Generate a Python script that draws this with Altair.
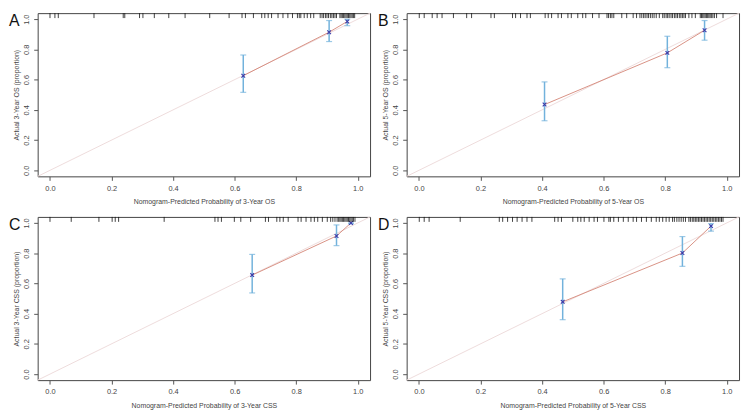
import altair as alt
import pandas as pd

letters = ["A", "B", "C", "D"]
x_titles = [
    "Nomogram-Predicted Probability of 3-Year OS",
    "Nomogram-Predicted Probability of 5-Year OS",
    "Nomogram-Predicted Probability of 3-Year CSS",
    "Nomogram-Predicted Probability of 5-Year CSS",
]
y_titles = [
    "Actual 3-Year OS (proportion)",
    "Actual 5-Year OS (proportion)",
    "Actual 3-Year CSS (proportion)",
    "Actual 5-Year CSS (proportion)",
]
tick_values = [0.0, 0.2, 0.4, 0.6, 0.8, 1.0]
ideal_ends = [-0.04, 1.04]

pred_A = [0.628, 0.907, 0.966]
obs_A = [0.626, 0.914, 0.985]
lo_A = [0.516, 0.852, 0.957]
hi_A = [0.763, 0.991, 1.0]

pred_B = [0.408, 0.807, 0.928]
obs_B = [0.435, 0.777, 0.927]
lo_B = [0.328, 0.679, 0.861]
hi_B = [0.585, 0.887, 0.991]

pred_C = [0.657, 0.931, 0.978]
obs_C = [0.655, 0.914, 1.0]
lo_C = [0.537, 0.850, 0.995]
hi_C = [0.792, 0.987, 1.0]

pred_D = [0.467, 0.856, 0.949]
obs_D = [0.478, 0.801, 0.979]
lo_D = [0.360, 0.713, 0.946]
hi_D = [0.630, 0.910, 0.996]

rug_A = [0.0, 0.016, 0.027, 0.143, 0.238, 0.243, 0.291, 0.302, 0.339, 0.386, 0.439, 0.519,
         0.582, 0.624, 0.635, 0.661, 0.688, 0.698, 0.709, 0.720, 0.741, 0.757, 0.773, 0.788,
         0.804, 0.810, 0.815, 0.826, 0.836, 0.847, 0.857, 0.878, 0.884, 0.889, 0.895, 0.900,
         0.905, 0.911, 0.916, 0.921, 0.926, 0.931, 0.942, 0.946, 0.950, 0.954, 0.958, 0.962,
         0.966, 0.970, 0.974, 0.978, 0.982, 0.986, 0.990]
rug_B = [0.001, 0.017, 0.043, 0.059, 0.075, 0.112, 0.155, 0.171, 0.234, 0.245, 0.304, 0.314,
         0.330, 0.351, 0.362, 0.410, 0.420, 0.431, 0.452, 0.463, 0.484, 0.495, 0.516, 0.532,
         0.542, 0.564, 0.585, 0.611, 0.616, 0.622, 0.627, 0.633, 0.659, 0.675, 0.696, 0.707,
         0.718, 0.724, 0.730, 0.735, 0.741, 0.746, 0.752, 0.758, 0.764, 0.771, 0.781, 0.792,
         0.797, 0.803, 0.808, 0.813, 0.819, 0.824, 0.830, 0.835, 0.840, 0.846, 0.851, 0.856,
         0.861, 0.866, 0.877, 0.887, 0.898, 0.914, 0.918, 0.922, 0.926, 0.930, 0.934, 0.938,
         0.942, 0.946, 0.950, 0.955, 0.960, 0.967, 0.988]
rug_C = [0.0, 0.069, 0.159, 0.202, 0.212, 0.223, 0.371, 0.536, 0.546, 0.557, 0.599, 0.620,
         0.652, 0.700, 0.710, 0.737, 0.747, 0.758, 0.774, 0.806, 0.816, 0.832, 0.848, 0.859,
         0.870, 0.885, 0.901, 0.912, 0.919, 0.926, 0.933, 0.938, 0.942, 0.946, 0.950, 0.954,
         0.958, 0.962, 0.966, 0.970, 0.974, 0.978, 0.982, 0.986, 0.991]
rug_D = [0.001, 0.017, 0.033, 0.134, 0.261, 0.272, 0.288, 0.304, 0.319, 0.335, 0.351, 0.367,
         0.441, 0.452, 0.463, 0.500, 0.516, 0.526, 0.537, 0.553, 0.569, 0.580, 0.601, 0.617,
         0.622, 0.633, 0.648, 0.664, 0.680, 0.696, 0.707, 0.723, 0.739, 0.755, 0.771, 0.781,
         0.792, 0.803, 0.813, 0.824, 0.830, 0.838, 0.845, 0.852, 0.859, 0.866, 0.877, 0.882,
         0.888, 0.893, 0.898, 0.903, 0.908, 0.913, 0.918, 0.923, 0.928, 0.933, 0.938, 0.943,
         0.948, 0.953, 0.958, 0.963, 0.968, 0.973, 0.978, 0.983, 0.988]

FONT = "Liberation Sans"
TXT = "#444444"
DOMAIN = [-0.04, 1.04]


def xenc(field, title):
    return alt.X(
        f"{field}:Q",
        scale=alt.Scale(domain=DOMAIN, nice=False, zero=False),
        axis=alt.Axis(
            values=tick_values, format=".1f", title=title, grid=False, domain=False,
            tickSize=4, tickColor="#555555", labelPadding=4, labelFontSize=7.5,
            labelFont=FONT, labelColor=TXT, titleFont=FONT, titleFontSize=7,
            titleFontWeight="normal", titleColor=TXT, titlePadding=6,
        ),
    )


def yenc(field, title):
    return alt.Y(
        f"{field}:Q",
        scale=alt.Scale(domain=DOMAIN, nice=False, zero=False),
        axis=alt.Axis(
            values=tick_values, format=".1f", title=title, grid=False, domain=False,
            tickSize=4, tickColor="#555555", labelPadding=3, labelFontSize=7.5,
            labelFont=FONT, labelColor=TXT, labelAngle=270, labelAlign="center",
            labelBaseline="bottom", titleFont=FONT, titleFontSize=7,
            titleFontWeight="normal", titleColor=TXT, titlePadding=3,
        ),
    )


def panel(letter, xt, yt, pred, obs, lo, hi, rug):
    ideal = pd.DataFrame({"v": ideal_ends})
    pts = pd.DataFrame({"pred": pred, "obs": obs, "lo": lo, "hi": hi})
    rugdf = pd.DataFrame({"r": rug})
    lab = pd.DataFrame({"t": [letter]})

    ideal_line = alt.Chart(ideal).mark_line(color="#eedcdc", strokeWidth=1).encode(
        x=xenc("v", xt), y=yenc("v", yt))
    cal_line = alt.Chart(pts).mark_line(color="#d48576", strokeWidth=0.9).encode(
        x=xenc("pred", xt), y=yenc("obs", yt))
    bars = alt.Chart(pts).mark_rule(color="#72b2dc", strokeWidth=1.5).encode(
        x=xenc("pred", xt), y=yenc("lo", yt), y2="hi:Q")
    cap_lo = alt.Chart(pts).mark_tick(color="#72b2dc", orient="horizontal", size=6,
                                       thickness=1.2).encode(
        x=xenc("pred", xt), y=yenc("lo", yt))
    cap_hi = alt.Chart(pts).mark_tick(color="#72b2dc", orient="horizontal", size=6,
                                       thickness=1.2).encode(
        x=xenc("pred", xt), y=yenc("hi", yt))
    marks = alt.Chart(pts).mark_point(shape="M-1,-1L1,1M-1,1L1,-1", filled=False,
                                      color="#3a3aa8", size=14, strokeWidth=1.1,
                                      opacity=1).encode(
        x=xenc("pred", xt), y=yenc("obs", yt))
    rugs = alt.Chart(rugdf).mark_rule(color="#111111", strokeWidth=0.8).encode(
        x=xenc("r", xt), y=alt.value(0), y2=alt.value(5))
    letter_txt = alt.Chart(lab).mark_text(font=FONT, fontSize=16, align="left",
                                          baseline="alphabetic", color="#111111").encode(
        text="t:N", x=alt.value(-29), y=alt.value(13))
    return alt.layer(ideal_line, cal_line, bars, cap_lo, cap_hi, marks, rugs,
                     letter_txt).properties(width=336, height=165)


pA = panel(letters[0], x_titles[0], y_titles[0], pred_A, obs_A, lo_A, hi_A, rug_A)
pB = panel(letters[1], x_titles[1], y_titles[1], pred_B, obs_B, lo_B, hi_B, rug_B)
pC = panel(letters[2], x_titles[2], y_titles[2], pred_C, obs_C, lo_C, hi_C, rug_C)
pD = panel(letters[3], x_titles[3], y_titles[3], pred_D, obs_D, lo_D, hi_D, rug_D)

chart = alt.concat(pA, pB, pC, pD, columns=2, spacing={"row": 41, "column": 37},
                   bounds="flush").properties(padding=0, background="white").configure_view(
    stroke="#444444", strokeWidth=1)

chart.save("out.html", embed_options={"renderer": "svg", "actions": False})
